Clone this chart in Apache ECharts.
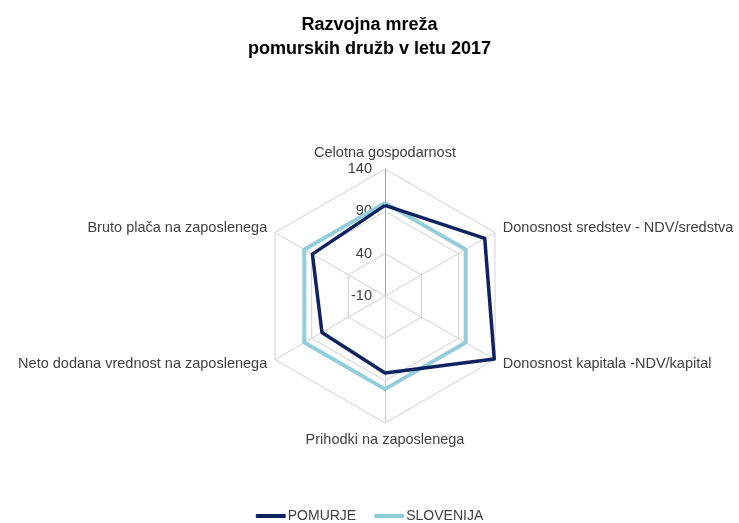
<!DOCTYPE html>
<html>
<head>
<meta charset="utf-8">
<script src="https://cdn.jsdelivr.net/npm/echarts@6/dist/echarts.min.js"></script>
<style>
  html, body { margin: 0; padding: 0; background: #fff; }
  #chart { width: 739px; height: 523px; }
</style>
</head>
<body>
<div id="chart"></div>
<script>
// kategorije v smeri urinega kazalca, od vrha navzdol
const categories = [
  "Celotna gospodarnost",
  "Donosnost sredstev - NDV/sredstva",
  "Donosnost kapitala -NDV/kapital",
  "Prihodki na zaposlenega",
  "Neto dodana vrednost na zaposlenega",
  "Bruto plača na zaposlenega"
];
const pomurje = [97, 126, 139, 81, 76, 89];
const slovenija = [100, 100, 100, 100, 100, 100];
const axisMin = -10;
const axisMax = 140;

// ECharts riše kazalnike v nasprotni smeri urinega kazalca, zato obrnemo vrstni red
const order = [0, 5, 4, 3, 2, 1];

const font = "Liberation Sans";

const indicator = order.map(function (i, k) {
  const ind = { name: categories[i], min: axisMin, max: axisMax };
  if (k === 0) {
    // oznake vrednosti samo na navpični osi
    ind.axisLabel = {
      show: true,
      color: "#404040",
      fontSize: 14.5,
      fontFamily: font,
      margin: 13
    };
    ind.axisLine = { lineStyle: { color: "#a6a6a6" } };
  }
  return ind;
});

const chart = echarts.init(document.getElementById("chart"));
chart.setOption({
  animation: false,
  title: {
    text: "Razvojna mreža\npomurskih družb v letu 2017",
    left: "center",
    top: 8,
    textStyle: {
      fontFamily: font,
      fontSize: 18,
      fontWeight: "bold",
      color: "#000",
      lineHeight: 24
    }
  },
  legend: {
    top: 504,
    left: "center",
    icon: "roundRect",
    itemWidth: 30,
    itemHeight: 4,
    itemGap: 18,
    textStyle: { fontFamily: font, fontSize: 14, color: "#404040", padding: [0, 0, 0, -3] },
    data: ["POMURJE", "SLOVENIJA"]
  },
  radar: {
    center: [385, 296],
    radius: 127,
    shape: "polygon",
    splitNumber: 3,
    startAngle: 90,
    indicator: indicator,
    axisName: {
      color: "#404040",
      fontFamily: font,
      fontSize: 14.5
    },
    nameGap: 9,
    splitArea: { show: false },
    splitLine: { lineStyle: { color: "#d0d0d0", width: 1 } },
    axisLine: { lineStyle: { color: "#d0d0d0", width: 1 } },
    axisTick: { show: false }
  },
  series: [
    {
      type: "radar",
      symbol: "none",
      data: [
        {
          name: "SLOVENIJA",
          value: order.map(function (i) { return slovenija[i]; }),
          lineStyle: { color: "#92CDDC", width: 4 },
          itemStyle: { color: "#92CDDC" }
        },
        {
          name: "POMURJE",
          value: order.map(function (i) { return pomurje[i]; }),
          lineStyle: { color: "#0E2260", width: 3.5 },
          itemStyle: { color: "#0E2260" }
        }
      ]
    }
  ]
});
</script>
</body>
</html>
